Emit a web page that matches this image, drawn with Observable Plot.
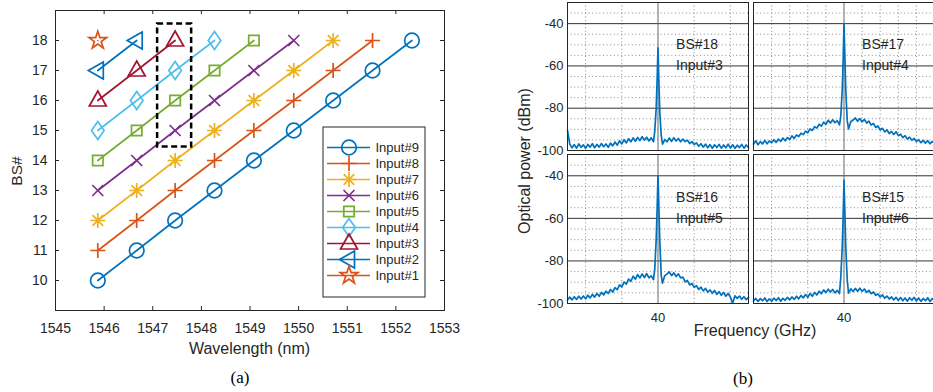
<!DOCTYPE html>
<html><head><meta charset="utf-8">
<script src="https://cdn.jsdelivr.net/npm/d3@7"></script>
<script src="https://cdn.jsdelivr.net/npm/@observablehq/plot@0.6"></script>
<style>
body{margin:0;background:#fff;}
#fig{position:relative;width:933px;height:392px;overflow:hidden;background:#fff;font-family:"Liberation Sans",Arial,sans-serif;color:#262626;}
#fig svg{position:absolute;}
.lbl{position:absolute;white-space:nowrap;transform:translate(-50%,-50%);line-height:1;}
.cap{font-family:"Liberation Serif","Times New Roman",serif;font-size:17px;color:#000;}
</style></head><body><div id="fig"></div>
<script>
// ---------- Panel (a) data ----------
const inputs = ["Input#9","Input#8","Input#7","Input#6","Input#5","Input#4","Input#3","Input#2","Input#1"];
const colors = ["#0072BD","#D95319","#EDB120","#7E2F8E","#77AC30","#4DBEEE","#A2142F","#0072BD","#D95319"];
const markers = ["circle","plus","asterisk","times","square","diamond","triangleUp","triangleLeft","pentagram"];
const wavelengths = [1545.87, 1546.67, 1547.46, 1548.27, 1549.08, 1549.90, 1550.71, 1551.52, 1552.33];
const firstBS = [10, 11, 12, 13, 14, 15, 16, 17, 18];
const xTicks = [1545, 1546, 1547, 1548, 1549, 1550, 1551, 1552, 1553];
const yTicks = [10, 11, 12, 13, 14, 15, 16, 17, 18];
const highlight = [{x1: 1547.1, x2: 1547.8, y1: 14.45, y2: 18.55}];

// ---------- Panel (b) data ----------
const freqGHz = [35,35.125,35.25,35.375,35.5,35.625,35.75,35.875,36,36.125,36.25,36.375,36.5,36.625,36.75,36.875,37,37.125,37.25,37.375,37.5,37.625,37.75,37.875,38,38.125,38.25,38.375,38.5,38.625,38.75,38.875,39,39.125,39.25,39.375,39.5,39.625,39.75,
 39.82,39.9,39.95,40,40.05,40.1,40.18,
 40.25,40.375,40.5,40.625,40.75,40.875,41,41.125,41.25,41.375,41.5,41.625,41.75,41.875,42,42.125,42.25,42.375,42.5,42.625,42.75,42.875,43,43.125,43.25,43.375,43.5,43.625,43.75,43.875,44,44.125,44.25,44.375,44.5,44.625,44.75,44.875,45];
const powerBS18 = [-90.5,-97.0,-98.7,-97.2,-98.9,-96.9,-98.5,-97.3,-99.0,-97.1,-98.4,-96.8,-98.7,-97.1,-98.4,-96.7,-98.2,-96.9,-98.5,-96.5,-97.8,-96.0,-97.5,-95.4,-96.9,-94.9,-96.4,-94.4,-95.9,-94.0,-95.6,-93.8,-95.3,-93.5,-95.1,-93.7,-95.5,-94.0,-95.9,
 -91,-80,-67,-51.5,-68,-82,-93,
 -97.0,-94.8,-95.9,-94.1,-95.7,-94.0,-95.5,-94.3,-95.9,-94.6,-95.8,-95.2,-96.7,-95.8,-97.2,-96.4,-98.0,-96.8,-98.4,-97.0,-98.7,-97.2,-98.9,-97.3,-98.6,-97.1,-98.9,-97.4,-98.7,-97.0,-98.8,-97.3,-99.0,-97.5,-98.6,-97.1,-98.9,-97.4,-98.6];
const powerBS17 = [-96.9,-95.4,-97.3,-95.8,-96.9,-95.2,-96.8,-95.5,-96.3,-94.9,-96.2,-94.6,-95.7,-94.1,-95.4,-93.9,-94.8,-93.1,-94.3,-92.6,-93.4,-91.8,-92.5,-90.9,-91.6,-89.8,-90.5,-88.7,-89.4,-87.6,-88.5,-86.6,-87.6,-85.7,-87.0,-85.5,-86.8,-85.9,-87.9,
 -84,-72,-58,-40,-56,-72,-86,
 -89.8,-86.4,-85.6,-84.6,-86.2,-84.9,-86.5,-85.3,-87.0,-86.1,-88.0,-87.2,-89.1,-88.4,-90.3,-89.5,-91.2,-90.2,-92.0,-91.0,-92.4,-91.1,-93.0,-92.3,-93.9,-93.0,-94.6,-93.7,-95.2,-94.3,-95.8,-94.9,-96.3,-95.2,-96.5,-95.4,-96.8,-95.7,-96.6];
const powerBS16 = [-98.4,-97.0,-98.3,-96.8,-98.1,-96.6,-97.9,-96.5,-97.8,-96.1,-97.4,-95.7,-97.0,-95.3,-96.6,-94.8,-96.0,-94.2,-95.3,-93.4,-94.6,-92.5,-93.5,-91.3,-92.2,-89.9,-90.9,-88.5,-89.6,-87.2,-88.6,-86.4,-88.0,-86.1,-87.8,-86.0,-87.9,-87.0,-88.8,
 -84,-70,-56,-40,-55,-71,-87,
 -90.4,-86.9,-86.1,-85.2,-86.9,-85.6,-87.3,-86.1,-88.0,-87.6,-89.8,-89.2,-91.3,-90.6,-92.4,-91.6,-93.4,-92.3,-94.1,-92.9,-94.7,-93.6,-95.2,-93.9,-95.7,-94.4,-96.1,-94.8,-96.6,-95.3,-97.0,-99.9,-96.4,-97.6,-96.5,-98.0,-96.8,-98.2,-97.1];
const powerBS15 = [-98.8,-97.6,-99.0,-97.7,-98.7,-97.4,-99.1,-97.8,-98.9,-97.5,-98.6,-97.3,-98.9,-97.6,-98.5,-97.1,-98.3,-96.9,-98.1,-96.6,-97.8,-96.2,-97.4,-95.8,-97.1,-95.3,-96.6,-94.8,-96.0,-94.2,-95.4,-93.6,-94.9,-93.3,-94.6,-93.4,-95.0,-93.8,-95.3,
 -88,-74,-60,-42,-58,-74,-89,
 -95.1,-93.1,-94.4,-92.9,-94.2,-92.8,-94.3,-93.2,-94.8,-93.8,-95.4,-94.6,-96.1,-95.5,-96.9,-96.0,-97.5,-96.5,-97.9,-96.9,-98.3,-97.1,-98.6,-97.2,-98.7,-97.4,-98.9,-97.3,-98.5,-97.1,-98.8,-97.4,-99.0,-97.6,-98.7,-97.3,-99.1,-97.7,-98.8];
const panelBS = ["BS#18","BS#17","BS#16","BS#15"];
const panelInput = ["Input#3","Input#4","Input#5","Input#6"];
const panelPower = [powerBS18, powerBS17, powerBS16, powerBS15];
const yMajor = [-40, -60, -80];
const yMinor = [-95,-90,-85,-75,-70,-65,-55,-50,-45,-35];
const yTickLabels = [-100, -80, -60, -40];
const vMinorCoarse = [36, 38, 42, 44];
const vMinorFine = [36, 37, 38, 39, 41, 42, 43, 44];

// ---------- custom MATLAB-like markers ----------
const symbolDefs = {
  circle: c => { c.moveTo(7.3, 0); c.arc(0, 0, 7.3, 0, 2 * Math.PI); },
  plus: c => { c.moveTo(-7.5, 0); c.lineTo(7.5, 0); c.moveTo(0, -7.5); c.lineTo(0, 7.5); },
  asterisk: c => { const a = 7.5, b = 5.3;
    c.moveTo(-a, 0); c.lineTo(a, 0); c.moveTo(0, -a); c.lineTo(0, a);
    c.moveTo(-b, -b); c.lineTo(b, b); c.moveTo(-b, b); c.lineTo(b, -b); },
  times: c => { const a = 5.5; c.moveTo(-a, -a); c.lineTo(a, a); c.moveTo(-a, a); c.lineTo(a, -a); },
  square: c => { c.moveTo(-5.2, -5.2); c.lineTo(5.2, -5.2); c.lineTo(5.2, 5.2); c.lineTo(-5.2, 5.2); c.closePath(); },
  diamond: c => { c.moveTo(0, -9); c.lineTo(6.3, 0); c.lineTo(0, 9); c.lineTo(-6.3, 0); c.closePath(); },
  triangleUp: c => { c.moveTo(0, -9.5); c.lineTo(8.5, 5.5); c.lineTo(-8.5, 5.5); c.closePath(); },
  triangleLeft: c => { c.moveTo(-9.5, 0); c.lineTo(5.5, -8.5); c.lineTo(5.5, 8.5); c.closePath(); },
  pentagram: c => { const R = 9.3, r = R * 0.382;
    for (let k = 0; k < 10; k++) { const ang = -Math.PI / 2 + k * Math.PI / 5, rad = k % 2 ? r : R;
      const px = rad * Math.cos(ang), py = rad * Math.sin(ang); k ? c.lineTo(px, py) : c.moveTo(px, py); }
    c.closePath(); }
};
const symbolOf = name => ({draw: (context) => symbolDefs[name](context)});

// ---------- build panel (a) ----------
const rows = [];
inputs.forEach((name, i) => {
  for (let j = 0; firstBS[i] + j <= 18; j++) rows.push({input: name, wl: wavelengths[j], bs: firstBS[i] + j});
});

const fig = document.getElementById("fig");
const baseStyle = {background: "transparent", overflow: "visible", fontFamily: "'Liberation Sans', Arial, sans-serif", color: "#262626"};

const A = {w: 470, h: 360, ml: 55, mr: 26, mt: 10, mb: 50};
const fw = A.w - A.ml - A.mr, fh = A.h - A.mt - A.mb;
const seriesMarks = [];
inputs.forEach((name, i) => {
  const d = rows.filter(r => r.input === name);
  seriesMarks.push(Plot.line(d, {x: "wl", y: "bs", stroke: colors[i], strokeWidth: 1.7}));
  seriesMarks.push(Plot.dot(d, {x: "wl", y: "bs", r: 6, symbol: symbolOf(markers[i]), stroke: colors[i], fill: "none", strokeWidth: 1.7}));
});
const plotA = Plot.plot({
  width: A.w, height: A.h, marginLeft: A.ml, marginRight: A.mr, marginTop: A.mt, marginBottom: A.mb,
  style: {...baseStyle, fontSize: "14px"},
  x: {domain: [1545, 1553], ticks: xTicks, tickFormat: d => String(d), tickSize: 0, tickPadding: 13, label: null},
  y: {domain: [9, 19], ticks: yTicks, tickFormat: d => String(d), tickSize: 0, tickPadding: 8, label: null},
  marks: [
    Plot.tickX(xTicks, {x: d => d, insetTop: fh - 4, stroke: "#262626"}),
    Plot.tickX(xTicks, {x: d => d, insetBottom: fh - 4, stroke: "#262626"}),
    Plot.tickY(yTicks, {y: d => d, insetRight: fw - 4, stroke: "#262626"}),
    Plot.tickY(yTicks, {y: d => d, insetLeft: fw - 4, stroke: "#262626"}),
    ...seriesMarks,
    Plot.rect(highlight, {x1: "x1", x2: "x2", y1: "y1", y2: "y2", fill: "none", stroke: "#000", strokeWidth: 2.5, strokeDasharray: "6,3.5"}),
    Plot.frame({stroke: "#262626"})
  ]
});
plotA.style.left = "0px"; plotA.style.top = "0px";
fig.appendChild(plotA);

// legend
const legend = Plot.plot({
  width: 103, height: 171, margin: 0,
  style: {...baseStyle, background: "#fff", fontSize: "13px"},
  x: {domain: [0, 103], range: [0, 103], axis: null},
  y: {type: "point", domain: inputs, range: [11.7, 158.3], axis: null},
  marks: [
    ...inputs.flatMap((name, i) => [
      Plot.ruleY([name], {y: d => d, x1: 5, x2: 48, stroke: colors[i], strokeWidth: 1.7}),
      Plot.dot([name], {y: d => d, x: 26.5, r: 6, symbol: symbolOf(markers[i]), stroke: colors[i], fill: "none", strokeWidth: 1.7})
    ]),
    Plot.text(inputs, {y: d => d, x: 53, text: d => d, textAnchor: "start", fill: "#262626"}),
    Plot.frame({stroke: "#262626", inset: 0.5})
  ]
});
legend.style.left = "322px"; legend.style.top = "126px";
fig.appendChild(legend);

// ---------- build panel (b) ----------
const B = {ml: 45, mr: 1, mt: 2, mb: 22, fw: 181};
const layout = [
  {left: 567, top: 2, fh: 148, showY: true, showX: false, vgrid: vMinorCoarse},
  {left: 753, top: 2, fh: 148, showY: false, showX: false, vgrid: vMinorFine},
  {left: 567, top: 154, fh: 149, showY: true, showX: true, vgrid: vMinorCoarse},
  {left: 753, top: 154, fh: 149, showY: false, showX: true, vgrid: vMinorCoarse}
];
layout.forEach((L, k) => {
  const trace = freqGHz.map((f, i) => ({f, p: panelPower[k][i]}));
  const p = Plot.plot({
    width: B.ml + B.fw + B.mr, height: B.mt + L.fh + B.mb,
    marginLeft: B.ml, marginRight: B.mr, marginTop: B.mt, marginBottom: B.mb,
    style: {...baseStyle, fontSize: "13px"},
    x: {domain: [35, 45], ticks: [40], tickFormat: d => String(d), tickSize: 0, tickPadding: 9, label: null, axis: L.showX ? "bottom" : null},
    y: {domain: [-100, -30], ticks: yTickLabels, tickFormat: d => String(d), tickSize: 0, tickPadding: 4, label: null, axis: L.showY ? "left" : null},
    marks: [
      Plot.ruleY(yMinor, {y: d => d, stroke: "#8a8a8a", strokeDasharray: "1,2.6"}),
      Plot.ruleX(L.vgrid, {x: d => d, stroke: "#8a8a8a", strokeDasharray: "1,2.6"}),
      Plot.ruleY(yMajor, {y: d => d, stroke: "#333"}),
      Plot.ruleX([40], {x: d => d, stroke: "#666"}),
      Plot.line(trace, {x: "f", y: "p", stroke: "#0072BD", strokeWidth: 1.7}),
      Plot.text([panelBS[k]], {x: 41, y: -50, text: d => d, textAnchor: "start", fontSize: 14, fill: "#262626"}),
      Plot.text([panelInput[k]], {x: 41, y: -60, text: d => d, textAnchor: "start", fontSize: 14, fill: "#262626"}),
      Plot.frame({stroke: "#262626"})
    ]
  });
  p.style.left = (L.left - B.ml) + "px"; p.style.top = (L.top - B.mt) + "px";
  fig.appendChild(p);
});

// ---------- axis titles and captions ----------
function label(text, x, y, cls, size, rotate) {
  const d = document.createElement("div");
  d.className = "lbl " + (cls || "");
  d.textContent = text;
  d.style.left = x + "px"; d.style.top = y + "px";
  if (size) d.style.fontSize = size + "px";
  if (rotate) d.style.transform = "translate(-50%,-50%) rotate(-90deg)";
  fig.appendChild(d);
}
label("BS#", 17, 171, "", 15.5, true);
label("Wavelength (nm)", 249.5, 349, "", 16);
label("(a)", 240, 377, "cap");
label("Optical power (dBm)", 525, 161, "", 16, true);
label("Frequency (GHz)", 755, 331, "", 16);
label("(b)", 743, 378, "cap");
</script></body></html>
